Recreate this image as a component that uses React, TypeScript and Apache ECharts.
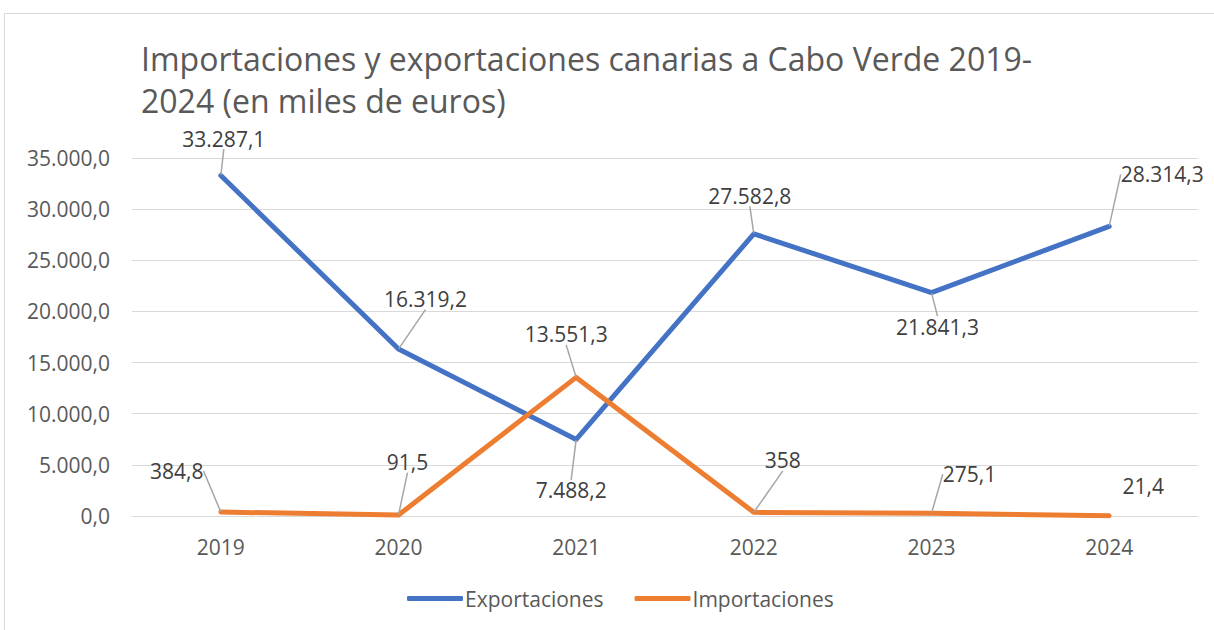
import React, { useEffect, useRef } from "react";
import * as echarts from "echarts";

const years = ["2019", "2020", "2021", "2022", "2023", "2024"];
const exportaciones = [33287.1, 16319.2, 7488.2, 27582.8, 21841.3, 28314.3];
const importaciones = [384.8, 91.5, 13551.3, 358, 275.1, 21.4];
const yTicks = [0, 5000, 10000, 15000, 20000, 25000, 30000, 35000];

// label offsets (styling) relative to default "top" position
const expOffsets = [[3, -21], [27, -34], [-5, 67], [-4, -22], [6, 50], [53, -36]];
const impOffsets = [[-44, -25], [9, -37], [-10, -27], [29, -36], [38, -23], [34, -14]];
const impHideLine = [false, false, false, false, false, true];

const FONT = "'Open Sans', 'Noto Sans', sans-serif";

function group(intPart: string): string {
  return intPart.replace(/\B(?=(\d{3})+(?!\d))/g, ".");
}
function fmtLabel(v: number): string {
  const s = Number.isInteger(v) ? String(v) : v.toFixed(1);
  const [i, d] = s.split(".");
  return d ? group(i) + "," + d : group(i);
}
function fmtAxis(v: number): string {
  const [i, d] = v.toFixed(1).split(".");
  return group(i) + "," + d;
}

export default function App() {
  const ref = useRef<HTMLDivElement>(null);
  useEffect(() => {
    if (!ref.current) return;
    const chart = echarts.init(ref.current, null, { renderer: "svg" });
    const labelCommon = {
      show: true,
      position: "top",
      color: "#404040",
      fontSize: 21,
      fontFamily: FONT,
      formatter: (p: any) => fmtLabel(p.value),
    };
    chart.setOption({
      animation: false,
      backgroundColor: "#ffffff",
      textStyle: { fontFamily: FONT },
      title: {
        text: "Importaciones y exportaciones canarias a Cabo Verde 2019-\n2024 (en miles de euros)",
        left: 136,
        top: 32,
        textStyle: {
          fontSize: 32,
          fontWeight: "normal",
          color: "#595959",
          fontFamily: FONT,
          lineHeight: 42,
        },
      },
      graphic: [
        {
          type: "rect",
          shape: { x: 4.5, y: 13.5, width: 1230, height: 640 },
          style: { fill: "none", stroke: "#d9d9d9", lineWidth: 1 },
          silent: true,
          z: -10,
        },
      ],
      legend: {
        bottom: 16,
        left: 402,
        icon: "roundRect",
        itemWidth: 56,
        itemHeight: 5,
        itemGap: 31,
        textStyle: { fontSize: 21, color: "#595959", fontFamily: FONT, padding: [0, 0, 0, -3] },
        data: ["Exportaciones", "Importaciones"],
      },
      grid: { left: 132, right: 16, top: 158, bottom: 114 },
      xAxis: {
        type: "category",
        data: years,
        boundaryGap: true,
        axisLine: { lineStyle: { color: "#d9d9d9", width: 1 } },
        axisTick: { show: false },
        axisLabel: { color: "#595959", fontSize: 21, margin: 20, fontFamily: FONT },
      },
      yAxis: {
        type: "value",
        min: yTicks[0],
        max: yTicks[yTicks.length - 1],
        interval: 5000,
        axisLine: { show: false },
        axisTick: { show: false },
        axisLabel: {
          color: "#595959",
          fontSize: 21,
          margin: 22,
          fontFamily: FONT,
          formatter: (v: number) => fmtAxis(v),
        },
        splitLine: { lineStyle: { color: "#d9d9d9", width: 1 } },
      },
      series: [
        {
          name: "Exportaciones",
          type: "line",
          data: exportaciones,
          symbol: "circle",
          symbolSize: 1,
          showSymbol: true,
          color: "#4472C4",
          itemStyle: { color: "#4472C4" },
          lineStyle: { width: 5, color: "#4472C4", cap: "round", join: "round" },
          label: labelCommon,
          labelLine: { show: true, lineStyle: { color: "#a6a6a6", width: 1.5 } },
          labelLayout: (p: any) => ({ dx: expOffsets[p.dataIndex][0], dy: expOffsets[p.dataIndex][1] }),
        },
        {
          name: "Importaciones",
          type: "line",
          data: importaciones.map((v, i) =>
            impHideLine[i] ? { value: v, labelLine: { show: false } } : v
          ),
          symbol: "circle",
          symbolSize: 1,
          showSymbol: true,
          color: "#ED7D31",
          itemStyle: { color: "#ED7D31" },
          lineStyle: { width: 5, color: "#ED7D31", cap: "round", join: "round" },
          label: labelCommon,
          labelLine: { show: true, lineStyle: { color: "#a6a6a6", width: 1.5 } },
          labelLayout: (p: any) => ({ dx: impOffsets[p.dataIndex][0], dy: impOffsets[p.dataIndex][1] }),
        },
      ],
    });
    return () => chart.dispose();
  }, []);
  return (
    <div
      ref={ref}
      style={{ position: "fixed", left: 0, top: 0, width: 1214, height: 630, background: "#fff" }}
    />
  );
}
